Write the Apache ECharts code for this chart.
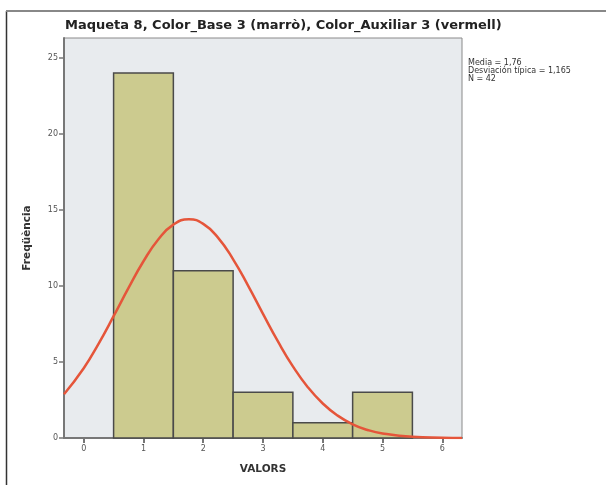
<!DOCTYPE html>
<html>
<head>
<meta charset="utf-8">
<script src="https://cdn.jsdelivr.net/npm/echarts@6/dist/echarts.min.js"></script>
<style>
html,body{margin:0;padding:0;background:#fff;}
#c{width:606px;height:485px;}
</style>
</head>
<body>
<div id="c"></div>
<script>
// Histogram data
const binStarts = [0.5, 1.5, 2.5, 3.5, 4.5];
const binEnds = [1.5, 2.5, 3.5, 4.5, 5.5];
const counts = [24, 11, 3, 1, 3];
// Fitted normal curve
const curveX = [-0.33, 0, 0.25, 0.5, 0.75, 1.0, 1.25, 1.5, 1.76, 2.0, 2.25, 2.5, 2.75, 3.0, 3.25, 3.5, 3.75, 4.0, 4.25, 4.5, 4.75, 5.0, 5.5, 6.0, 6.33];
const curveY = [2.88, 4.59, 6.21, 8.01, 9.87, 11.62, 13.07, 14.03, 14.38, 14.08, 13.16, 11.75, 10.02, 8.16, 6.35, 4.71, 3.34, 2.27, 1.47, 0.90, 0.53, 0.30, 0.08, 0.02, 0.005];
// Tick labels
const xTicks = [0, 1, 2, 3, 4, 5, 6];
const yTicks = [0, 5, 10, 15, 20, 25];
const titleText = 'Maqueta 8, Color_Base 3 (marrò), Color_Auxiliar 3 (vermell)';
const statsLines = ['Media = 1,76', 'Desviación típica = 1,165', 'N = 42'];

const chart = echarts.init(document.getElementById('c'), null, {renderer: 'canvas'});
const barData = counts.map((c, i) => [binStarts[i], binEnds[i], c]);
const lineData = curveX.map((x, i) => [x, curveY[i]]);

chart.setOption({
  animation: false,
  backgroundColor: '#fff',
  title: {
    text: titleText,
    left: 60, top: 14,
    textStyle: {fontFamily: 'DejaVu Sans', fontWeight: 'bold', fontSize: 13, color: '#222'}
  },
  grid: {
    left: 64, top: 38, right: 144, bottom: 47,
    show: true, backgroundColor: '#e8ebee', borderColor: '#8a8a8a', borderWidth: 1
  },
  xAxis: {
    type: 'value', min: -0.33, max: 6.33,
    name: 'VALORS', nameLocation: 'middle', nameGap: 26,
    nameTextStyle: {fontFamily: 'DejaVu Sans', fontWeight: 'bold', fontSize: 10.5, color: '#333'},
    splitLine: {show: false},
    axisLine: {onZero: false, lineStyle: {color: '#777', width: 2}},
    axisTick: {show: true, length: 5, customValues: xTicks, lineStyle: {color: '#777', width: 2}},
    axisLabel: {customValues: xTicks, fontSize: 8, color: '#555', margin: 7, fontFamily: 'DejaVu Sans'}
  },
  yAxis: {
    type: 'value', min: 0, max: 26.3,
    name: 'Freqüència', nameLocation: 'middle', nameGap: 31, nameRotate: 90,
    nameTextStyle: {fontFamily: 'DejaVu Sans', fontWeight: 'bold', fontSize: 10.5, color: '#333'},
    splitLine: {show: false},
    axisLine: {show: true, onZero: false, lineStyle: {color: '#777', width: 2}},
    axisTick: {show: true, length: 5, customValues: yTicks, lineStyle: {color: '#777', width: 1.5}},
    axisLabel: {customValues: yTicks, fontSize: 8, color: '#555', margin: 6, fontFamily: 'DejaVu Sans'}
  },
  graphic: [
    {type: 'line', shape: {x1: 6.5, y1: 11, x2: 6.5, y2: 485}, style: {stroke: '#333', lineWidth: 1.5}, z: 100},
    {type: 'line', shape: {x1: 6, y1: 11, x2: 606, y2: 11}, style: {stroke: '#888', lineWidth: 2}, z: 100},
    {type: 'text', left: 468, top: 59,
      style: {text: statsLines.join('\n'), fontSize: 8, lineHeight: 8, fill: '#333', fontFamily: 'DejaVu Sans'}}
  ],
  series: [
    {
      type: 'custom',
      data: barData,
      renderItem: function (params, api) {
        const p0 = api.coord([api.value(0), 0]);
        const p1 = api.coord([api.value(1), api.value(2)]);
        return {
          type: 'rect',
          shape: {x: p0[0], y: p1[1], width: p1[0] - p0[0], height: p0[1] - p1[1]},
          style: {fill: '#cccb8f', stroke: '#4a4a4a', lineWidth: 1.5}
        };
      },
      z: 2
    },
    {
      type: 'line',
      data: lineData,
      smooth: true,
      showSymbol: false,
      clip: true,
      lineStyle: {color: '#e5553a', width: 2.5},
      z: 3
    }
  ]
});
</script>
</body>
</html>
